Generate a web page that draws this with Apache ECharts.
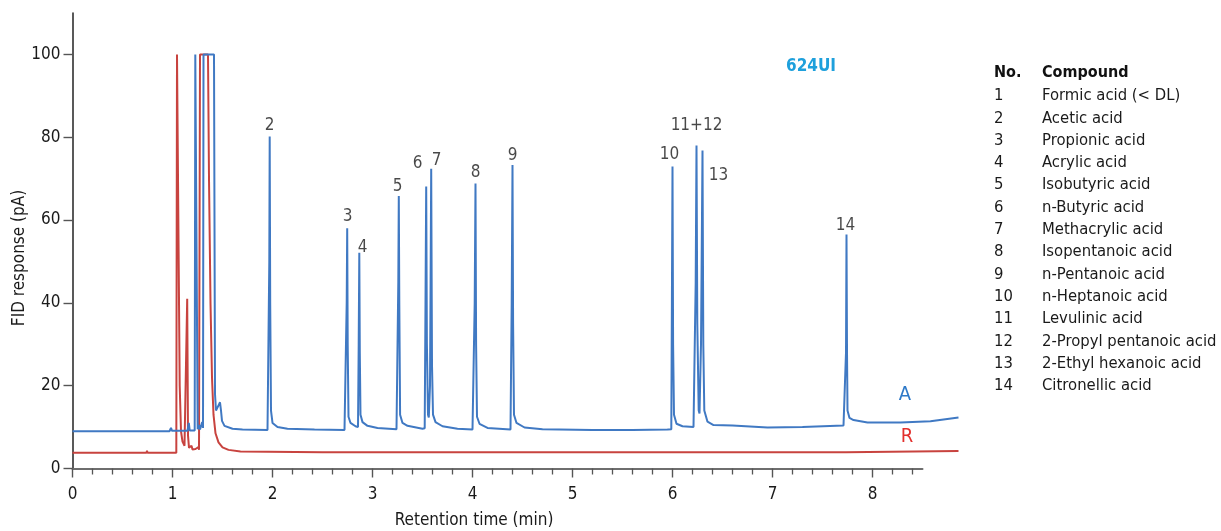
<!DOCTYPE html>
<html>
<head>
<meta charset="utf-8">
<script src="https://cdn.jsdelivr.net/npm/echarts@6/dist/echarts.min.js"></script>
<style>
  html, body { margin: 0; padding: 0; background: #fff; }
  #chart { width: 1221px; height: 531px; }
</style>
</head>
<body>
<div id="chart"></div>
<script>
// trace A (blue), [time min, response pA]
const traceA = [
  [0, 9.0], [0.55, 9.0], [0.555, 9.2], [0.56, 9.0], [0.97, 9.0], [0.985, 9.8], [0.995, 9.1],
  [1.15, 9.1], [1.163, 11.0], [1.172, 9.2], [1.222, 9.2], [1.228, 100], [1.245, 100], [1.252, 9.5],
  [1.265, 9.5], [1.27, 10.5], [1.275, 9.4], [1.29, 9.4], [1.297, 11.2], [1.305, 9.8], [1.31, 100],
  [1.415, 100], [1.425, 18], [1.435, 14], [1.45, 13.6], [1.465, 15.5], [1.475, 16], [1.485, 14],
  [1.495, 11.5], [1.52, 10.3], [1.6, 9.6], [1.7, 9.4], [1.95, 9.3], [1.962, 9.4], [1.968, 50],
  [1.972, 80.2], [1.977, 40], [1.985, 14], [2.0, 11.0], [2.05, 10.0], [2.15, 9.6], [2.42, 9.4],
  [2.43, 9.8], [2.44, 9.4], [2.72, 9.3], [2.735, 9.4], [2.742, 40], [2.747, 58], [2.752, 30],
  [2.76, 12.5], [2.78, 11], [2.83, 10.2], [2.855, 10], [2.862, 30], [2.868, 52.1], [2.873, 28],
  [2.88, 13], [2.9, 11.2], [2.95, 10.3], [3.05, 9.8], [3.24, 9.5], [3.252, 9.6], [3.258, 45],
  [3.263, 65.8], [3.268, 40], [3.276, 13], [3.3, 11], [3.35, 10.3], [3.5, 9.6], [3.522, 9.7],
  [3.53, 40], [3.537, 68.1], [3.544, 30], [3.555, 13], [3.563, 12.3], [3.575, 20], [3.581, 45],
  [3.587, 72.4], [3.595, 25], [3.605, 13], [3.63, 11.2], [3.7, 10.2], [3.85, 9.6], [4.0, 9.4],
  [4.015, 9.4], [4.022, 40], [4.03, 68.8], [4.036, 30], [4.045, 12.5], [4.07, 10.8], [4.15, 9.8],
  [4.38, 9.4], [4.392, 40], [4.4, 73.3], [4.406, 35], [4.415, 13], [4.44, 11], [4.52, 9.9],
  [4.7, 9.5], [5.2, 9.3], [5.21, 9.6], [5.22, 9.3], [5.6, 9.3], [5.95, 9.4], [5.988, 9.5],
  [5.994, 40], [6.0, 72.9], [6.006, 30], [6.015, 13], [6.04, 10.8], [6.1, 10.2], [6.21, 10.0],
  [6.225, 10.2], [6.232, 45], [6.24, 78], [6.248, 35], [6.262, 14], [6.27, 13.3], [6.285, 30],
  [6.3, 76.8], [6.308, 30], [6.318, 14], [6.35, 11.3], [6.41, 10.5], [6.6, 10.4], [6.61, 10.8],
  [6.62, 10.4], [6.95, 9.9], [7.3, 10.0], [7.71, 10.4], [7.728, 10.5], [7.735, 28], [7.74, 56.5],
  [7.745, 28.5], [7.75, 14], [7.77, 12.2], [7.81, 11.7], [7.95, 11.1], [8.28, 11.1], [8.58, 11.4],
  [8.59, 11.8], [8.6, 11.4], [8.86, 12.3]
];

// trace R (red)
const traceR = [
  [0, 3.8], [0.55, 3.8], [0.555, 4.0], [0.56, 3.8], [0.74, 3.8], [0.745, 4.3], [0.75, 3.8],
  [0.905, 3.8], [0.91, 4.1], [0.915, 3.8], [1.038, 3.8], [1.045, 100], [1.063, 100], [1.072, 20],
  [1.085, 9], [1.1, 6.5], [1.12, 5.5], [1.137, 5.8], [1.147, 41], [1.155, 8], [1.165, 5],
  [1.18, 4.8], [1.19, 5.5], [1.2, 4.6], [1.23, 4.7], [1.25, 4.4], [1.26, 5.2], [1.265, 4.5],
  [1.27, 4.5], [1.275, 100], [1.355, 100], [1.365, 70], [1.38, 40], [1.395, 22], [1.41, 13],
  [1.43, 8.5], [1.46, 6.3], [1.5, 5.1], [1.56, 4.5], [1.68, 4.1], [2.5, 3.9], [5.0, 3.9],
  [7.0, 3.9], [7.735, 3.9], [7.74, 4.2], [7.745, 3.9], [8.86, 4.2]
];

const peakNames = ['2', '3', '4', '5', '6', '7', '8', '9', '10', '11+12', '13', '14'];
const peakLabelTimes = [1.97, 2.75, 2.90, 3.25, 3.45, 3.64, 4.03, 4.40, 5.97, 6.24, 6.46, 7.73];
const peakLabelLevels = [82.9, 60.9, 53.4, 68.1, 73.7, 74.4, 71.5, 75.6, 75.8, 82.9, 70.8, 58.7];

const xTickValues = [0, 1, 2, 3, 4, 5, 6, 7, 8];
const yTickValues = [0, 20, 40, 60, 80, 100];

const compoundNos = ['1', '2', '3', '4', '5', '6', '7', '8', '9', '10', '11', '12', '13', '14'];
const compoundNames = [
  'Formic acid (< DL)', 'Acetic acid', 'Propionic acid', 'Acrylic acid', 'Isobutyric acid',
  'n-Butyric acid', 'Methacrylic acid', 'Isopentanoic acid', 'n-Pentanoic acid',
  'n-Heptanoic acid', 'Levulinic acid', '2-Propyl pentanoic acid', '2-Ethyl hexanoic acid',
  'Citronellic acid'
];

const FONT = "'Liberation Sans Narrow', 'DejaVu Sans Condensed', sans-serif";
const BLUE = '#4079c3';
const RED = '#c8433f';

const minorTickValues = [];
for (let i = 1; i <= 42; i++) {
  if (i % 5) minorTickValues.push(+(i * 0.2).toFixed(1));
}

const chart = echarts.init(document.getElementById('chart'), null, { renderer: 'canvas' });

const legendGraphics = [
  { type: 'text', left: 994, top: 65, style: { text: 'No.', font: 'bold 16px ' + FONT, fill: '#111' } },
  { type: 'text', left: 1042, top: 65, style: { text: 'Compound', font: 'bold 16px ' + FONT, fill: '#111' } }
];
compoundNos.forEach((no, i) => {
  legendGraphics.push({ type: 'text', left: 994, top: 87.5 + i * 22.3,
    style: { text: no, font: '16.5px ' + FONT, fill: '#1a1a1a' } });
  legendGraphics.push({ type: 'text', left: 1042, top: 87.5 + i * 22.3,
    style: { text: compoundNames[i], font: '16.5px ' + FONT, fill: '#1a1a1a' } });
});

const option = {
  animation: false,
  backgroundColor: '#fff',
  grid: [
    { left: 72.5, top: 13, width: 886, height: 455.5 },
    { left: 72.5, top: 13, width: 850, height: 455.5 }
  ],
  xAxis: [
    { gridIndex: 0, type: 'value', min: 0, max: 8.86, show: false },
    {
      gridIndex: 1, type: 'value', min: 0, max: 8.5, position: 'bottom',
      axisLine: { show: true, lineStyle: { color: '#6e6e6e', width: 2 } },
      axisTick: { show: true, customValues: xTickValues, length: 9, lineStyle: { color: '#555', width: 1.4 } },
      axisLabel: { customValues: xTickValues, margin: 18, color: '#1a1a1a', fontSize: 17, fontFamily: FONT },
      splitLine: { show: false }
    },
    {
      gridIndex: 1, type: 'value', min: 0, max: 8.5, position: 'bottom',
      axisLine: { show: false },
      axisTick: { show: true, customValues: minorTickValues, length: 6, lineStyle: { color: '#555', width: 1.3 } },
      axisLabel: { show: false },
      splitLine: { show: false }
    }
  ],
  yAxis: [
    { gridIndex: 0, type: 'value', min: 0, max: 110, show: false },
    {
      gridIndex: 1, type: 'value', min: 0, max: 110,
      axisLine: { show: true, lineStyle: { color: '#222', width: 1.5 } },
      axisTick: { show: true, customValues: yTickValues, length: 9, lineStyle: { color: '#555', width: 1.4 } },
      axisLabel: { customValues: yTickValues, margin: 12, color: '#1a1a1a', fontSize: 17, fontFamily: FONT },
      splitLine: { show: false }
    }
  ],
  series: [
    {
      type: 'line', name: 'R', xAxisIndex: 0, yAxisIndex: 0, data: traceR,
      showSymbol: false, symbol: 'none', lineStyle: { color: RED, width: 2 }, z: 2
    },
    {
      type: 'line', name: 'A', xAxisIndex: 0, yAxisIndex: 0, data: traceA,
      showSymbol: false, symbol: 'none', lineStyle: { color: BLUE, width: 2 }, z: 3
    },
    {
      type: 'scatter', xAxisIndex: 0, yAxisIndex: 0, symbolSize: 0, silent: true, z: 4,
      data: peakNames.map((n, i) => ({ name: n, value: [peakLabelTimes[i], peakLabelLevels[i]] })),
      label: {
        show: true, position: 'inside', formatter: p => p.name,
        color: '#1a1a1a', fontSize: 17, fontFamily: FONT
      }
    }
  ],
  graphic: [
    { type: 'text', x: 20, y: 258, rotation: Math.PI / 2,
      style: { text: 'FID response (pA)', font: '17px ' + FONT, fill: '#1a1a1a', align: 'center', verticalAlign: 'middle' } },
    { type: 'text', x: 474, y: 521,
      style: { text: 'Retention time (min)', font: '17px ' + FONT, fill: '#1a1a1a', align: 'center', verticalAlign: 'middle' } },
    { type: 'text', x: 811, y: 67,
      style: { text: '624UI', font: 'bold 17px ' + FONT, fill: '#1ea0dc', align: 'center', verticalAlign: 'middle' } },
    { type: 'text', x: 905, y: 395,
      style: { text: 'A', font: '20px ' + FONT, fill: '#2e79c8', align: 'center', verticalAlign: 'middle' } },
    { type: 'text', x: 907, y: 437,
      style: { text: 'R', font: '20px ' + FONT, fill: '#e3302d', align: 'center', verticalAlign: 'middle' } }
  ].concat(legendGraphics)
};

chart.setOption(option);
</script>
</body>
</html>
